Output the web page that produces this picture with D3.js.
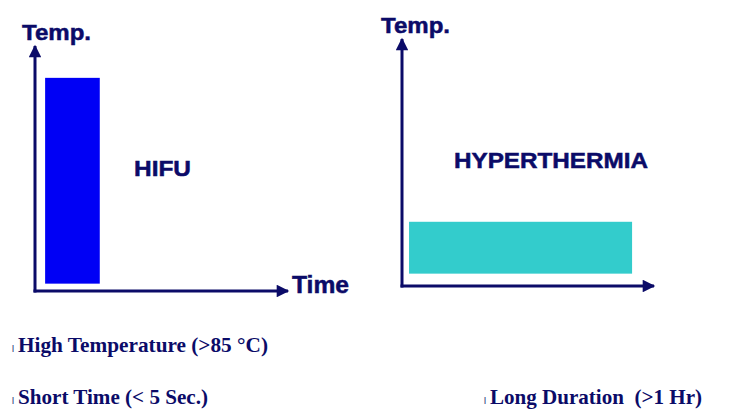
<!DOCTYPE html>
<html>
<head>
<meta charset="utf-8">
<script src="https://cdn.jsdelivr.net/npm/d3@7"></script>
<style>
  body { margin: 0; background: #fff; }
  svg { display: block; }
  text { white-space: pre; }
</style>
</head>
<body>
<div id="chart"></div>
<script>
// panel data: bar spans on a 0-100 time axis and 0-100 temperature axis
var panels = ["HIFU", "HYPERTHERMIA"];
var barStart = [4, 2.8];
var barEnd = [25.6, 91.3];
var tempLow = [3, 5];
var tempHigh = [87, 26];
var barColors = ["#0000f5", "#33cccc"];
var yLabels = ["Temp.", "Temp."];
var xLabels = ["Time", ""];
var notes = ["High Temperature (>85 \u00b0C)", "Short Time (< 5 Sec.)", "Long Duration  (>1 Hr)"];

var width = 746, height = 415;
var navy = "#0b0b68";

var svg = d3.select("#chart").append("svg")
    .attr("width", width)
    .attr("height", height);

svg.append("defs").append("marker")
    .attr("id", "arrow")
    .attr("viewBox", "0 0 10 10")
    .attr("refX", 9).attr("refY", 5)
    .attr("markerWidth", 4.4).attr("markerHeight", 4.2)
    .attr("markerUnits", "strokeWidth")
    .attr("orient", "auto")
    .append("path")
    .attr("d", "M0,0L10,5L0,10Z")
    .attr("fill", navy);

// layout of each panel (pixel frame)
var frames = [
  { x0: 35, x1: 288, y0: 291, y1: 46, ylab: [22, 40], xlab: [292, 293], name: [134, 176], nameLen: 57 },
  { x0: 402, x1: 654, y0: 286, y1: 39, ylab: [381, 33], xlab: null, name: [454, 168], nameLen: 194 }
];

panels.forEach(function(p, i) {
  var f = frames[i];
  var x = d3.scaleLinear().domain([0, 100]).range([f.x0, f.x1]);
  var y = d3.scaleLinear().domain([0, 100]).range([f.y0, f.y1]);
  var g = svg.append("g");

  // bar
  g.append("rect")
      .attr("x", x(barStart[i]))
      .attr("y", y(tempHigh[i]))
      .attr("width", x(barEnd[i]) - x(barStart[i]))
      .attr("height", y(tempLow[i]) - y(tempHigh[i]))
      .attr("fill", barColors[i]);

  // axes with arrows
  g.append("line")
      .attr("x1", x(0)).attr("y1", y(0) + 1.5)
      .attr("x2", x(0)).attr("y2", y(100))
      .attr("stroke", navy).attr("stroke-width", 3)
      .attr("marker-end", "url(#arrow)");
  g.append("line")
      .attr("x1", x(0) - 1.5).attr("y1", y(0))
      .attr("x2", x(100)).attr("y2", y(0))
      .attr("stroke", navy).attr("stroke-width", 3)
      .attr("marker-end", "url(#arrow)");

  g.append("text")
      .attr("x", f.ylab[0]).attr("y", f.ylab[1])
      .attr("font-family", "Liberation Sans, Arial, sans-serif")
      .attr("font-weight", "bold").attr("font-size", 22.5)
      .attr("textLength", 69)
      .attr("lengthAdjust", "spacingAndGlyphs")
      .attr("fill", navy)
      .attr("stroke", navy).attr("stroke-width", 0.5)
      .text(yLabels[i]);

  if (xLabels[i]) {
    g.append("text")
        .attr("x", f.xlab[0]).attr("y", f.xlab[1])
        .attr("font-family", "Liberation Sans, Arial, sans-serif")
        .attr("font-weight", "bold").attr("font-size", 23)
        .attr("textLength", 57)
        .attr("lengthAdjust", "spacingAndGlyphs")
        .attr("fill", navy)
        .attr("stroke", navy).attr("stroke-width", 0.5)
        .text(xLabels[i]);
  }

  g.append("text")
      .attr("x", f.name[0]).attr("y", f.name[1])
      .attr("font-family", "Liberation Sans, Arial, sans-serif")
      .attr("font-weight", "bold").attr("font-size", 22)
      .attr("textLength", f.nameLen)
      .attr("lengthAdjust", "spacingAndGlyphs")
      .attr("fill", navy)
      .attr("stroke", navy).attr("stroke-width", 0.5)
      .text(p);
});

// bullet notes below the panels
var notePos = [[18, 352, 250], [18, 404, 190], [490, 404, 212]];
notes.forEach(function(t, i) {
  var pos = notePos[i];
  svg.append("text")
      .attr("x", pos[0] - 6).attr("y", pos[1])
      .attr("font-family", "Liberation Sans, Arial, sans-serif")
      .attr("font-size", 9)
      .attr("fill", navy)
      .text("l");
  svg.append("text")
      .attr("x", pos[0]).attr("y", pos[1])
      .attr("font-family", "Liberation Serif, Times New Roman, serif")
      .attr("font-weight", "bold").attr("font-size", 21)
      .attr("textLength", pos[2])
      .attr("lengthAdjust", "spacingAndGlyphs")
      .attr("fill", navy)
      .text(t);
});
</script>
</body>
</html>
